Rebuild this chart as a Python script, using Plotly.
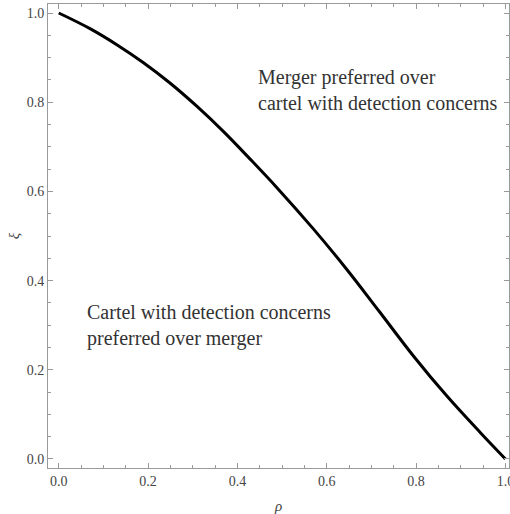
import plotly.graph_objects as go

# Boundary curve
rho = [0.0, 0.070, 0.130, 0.189, 0.249, 0.309, 0.369, 0.428, 0.488, 0.570,
       0.645, 0.719, 0.794, 0.869, 0.943, 1.0]
xi = [1.0, 0.965, 0.929, 0.889, 0.843, 0.791, 0.734, 0.673, 0.609, 0.516,
      0.425, 0.329, 0.231, 0.141, 0.060, 0.0]

tick_vals = [0.0, 0.2, 0.4, 0.6, 0.8, 1.0]
tick_text = ["0.0", "0.2", "0.4", "0.6", "0.8", "1.0"]

label_upper = "Merger preferred over<br>cartel with detection concerns"
label_lower = "Cartel with detection concerns<br>preferred over merger"

FONT = "Liberation Serif"
FRAME = "#9a9a9a"

fig = go.Figure()
fig.add_trace(go.Scatter(x=rho, y=xi, mode="lines",
                         line=dict(color="black", width=3, shape="spline", smoothing=1.0),
                         showlegend=False, hoverinfo="skip"))

axis_common = dict(
    showline=True, linecolor=FRAME, linewidth=1, mirror="ticks",
    ticks="inside", ticklen=5, tickcolor=FRAME, tickwidth=1,
    tickvals=tick_vals, ticktext=tick_text,
    minor=dict(tickvals=[i * 0.05 for i in range(21)], ticks="inside", ticklen=3,
               tickcolor=FRAME, tickwidth=1, showgrid=False),
    showgrid=False, zeroline=False,
    tickfont=dict(family=FONT, size=14, color="#444"),
    ticklabeloverflow="allow",
)

fig.update_xaxes(range=[-0.024, 1.008],
                 title=dict(text="<i>ρ</i>", font=dict(family=FONT, size=15, color="#444"), standoff=12),
                 **axis_common)
fig.update_yaxes(range=[-0.0202, 1.0202],
                 title=dict(text="<i>ξ</i>", font=dict(family=FONT, size=15, color="#444"), standoff=3),
                 **axis_common)

fig.add_annotation(x=0.442, y=0.828, xref="x", yref="y", text=label_upper, showarrow=False,
                   xanchor="left", yanchor="middle", align="left",
                   font=dict(family=FONT, size=20, color="#333"))
fig.add_annotation(x=0.059, y=0.299, xref="x", yref="y", text=label_lower, showarrow=False,
                   xanchor="left", yanchor="middle", align="left",
                   font=dict(family=FONT, size=20, color="#333"))

fig.update_layout(width=510, height=514, margin=dict(l=48, r=1, t=4, b=46, autoexpand=False),
                  plot_bgcolor="white", paper_bgcolor="white")

fig.write_html("out.html", config={"displayModeBar": False, "staticPlot": True},
               post_script="document.body.style.margin='0';document.body.style.overflow='hidden';")
